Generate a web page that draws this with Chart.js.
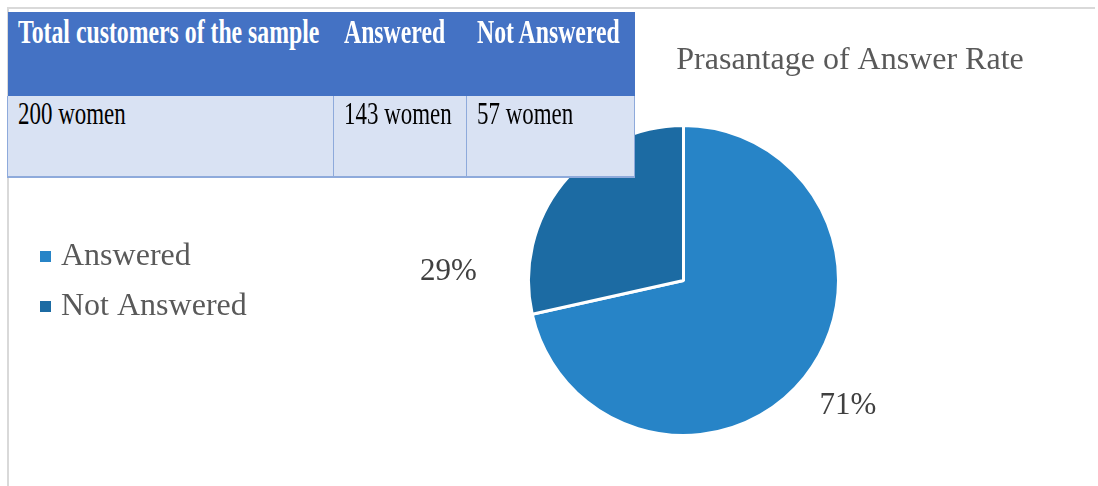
<!DOCTYPE html>
<html>
<head>
<meta charset="utf-8">
<script src="https://cdn.jsdelivr.net/npm/chart.js@4.4.1/dist/chart.umd.min.js"></script>
<style>
  body { margin: 0; background: #fff; }
  #wrap { position: relative; width: 1098px; height: 486px; overflow: hidden; }
  #frame { position: absolute; left: 7px; top: 7px; width: 1088px; height: 490px;
           border-top: 2px solid #d9d9d9; border-left: 2px solid #d9d9d9; box-sizing: border-box; }
  canvas { position: absolute; left: 0; top: 0; }
  table { position: absolute; left: 7px; top: 12px; border-collapse: collapse; table-layout: fixed;
          width: 627px; font-family: "Liberation Serif", "Times New Roman", serif; }
  th { background: #4472c4; color: #fff; font-weight: bold; font-size: 33px; box-sizing: border-box;
       height: 84px; vertical-align: top; text-align: left; padding: 2px 0 0 10px; white-space: nowrap; overflow: hidden; }
  td { background: #d9e2f3; color: #000; font-size: 31px; height: 81px; vertical-align: top; box-sizing: border-box;
       text-align: left; padding: 0 0 0 10px; border: 1px solid #8eaadb; white-space: nowrap; overflow: hidden; }
  tr.body td { border-bottom: 2px solid #8eaadb; border-top: none; }
  th .sq { transform: scaleX(0.72); }
  .sq { display: inline-block; transform: scaleX(0.74); transform-origin: left top; }
</style>
</head>
<body>
<div id="wrap">
  <div id="frame"></div>
  <canvas id="myChart" width="1098" height="486"></canvas>
  <table id="tbl"></table>
</div>
<script>
// data
var categories = ['Answered', 'Not Answered'];
var counts = [143, 57];
var percents = [71, 29];
var tableHead = ['Total customers of the sample', 'Answered', 'Not Answered'];
var tableRow = ['200 women', '143 women', '57 women'];
var colWidths = [326, 133, 168];

var colors = ['#2784c7', '#1c6ba3'];

// table on top of the chart
var tbl = document.getElementById('tbl');
var cg = document.createElement('colgroup');
colWidths.forEach(function (w) {
  var col = document.createElement('col');
  col.style.width = w + 'px';
  cg.appendChild(col);
});
tbl.appendChild(cg);
var hr = document.createElement('tr');
tableHead.forEach(function (t) {
  var th = document.createElement('th');
  th.innerHTML = '<span class="sq">' + t + '</span>';
  hr.appendChild(th);
});
tbl.appendChild(hr);
var br = document.createElement('tr');
br.className = 'body';
tableRow.forEach(function (t) {
  var td = document.createElement('td');
  td.innerHTML = '<span class="sq">' + t + '</span>';
  br.appendChild(td);
});
tbl.appendChild(br);

var textPlugin = {
  id: 'textPlugin',
  afterDraw: function (chart) {
    var c = chart.ctx;
    c.save();
    c.font = '32px "Liberation Serif", "Times New Roman", serif';
    c.fillStyle = '#595959';
    c.textBaseline = 'middle';

    // title
    c.textAlign = 'center';
    c.fillText('Prasantage of Answer Rate', 850, 61);

    // legend
    c.textAlign = 'left';
    categories.forEach(function (name, i) {
      var y = 256 + i * 50;
      c.fillStyle = colors[i];
      c.fillRect(40, y - 5, 11, 11);
      c.fillStyle = '#595959';
      c.fillText(name, 61, y + 1);
    });

    // percentage labels, placed from the arcs
    var meta = chart.getDatasetMeta(0);
    c.font = '31px "Liberation Serif", "Times New Roman", serif';
    c.fillStyle = '#404040';
    c.textAlign = 'center';
    meta.data.forEach(function (arc, i) {
      var mid = (arc.startAngle + arc.endAngle) / 2;
      var r = arc.outerRadius;
      var x, y;
      if (i === 0) {
        x = arc.x + Math.cos(mid) * r * 1.36;
        y = arc.y + Math.sin(mid) * r * 1.29;
      } else {
        x = arc.x - r - 80;
        y = arc.y - 9;
      }
      c.fillText(percents[i] + '%', x, y);
    });
    c.restore();
  }
};

var ctx = document.getElementById('myChart').getContext('2d');
var myChart = new Chart(ctx, {
  type: 'pie',
  data: {
    labels: categories,
    datasets: [{
      data: counts,
      backgroundColor: colors,
      borderColor: '#ffffff',
      borderWidth: 3
    }]
  },
  options: {
    responsive: false,
    animation: false,
    layout: { padding: { left: 527, right: 258, top: 123, bottom: 48 } },
    plugins: {
      legend: { display: false },
      title: { display: false },
      tooltip: { enabled: false }
    }
  },
  plugins: [textPlugin]
});
</script>
</body>
</html>
